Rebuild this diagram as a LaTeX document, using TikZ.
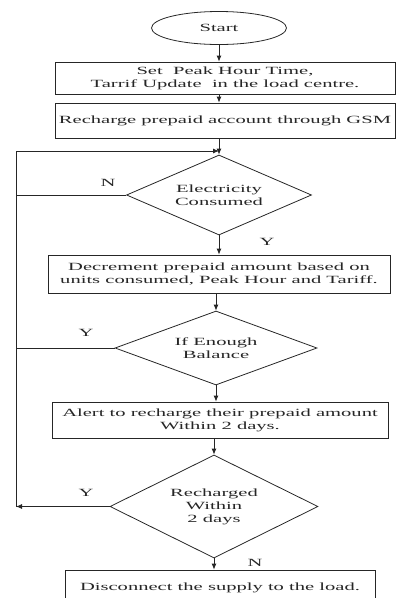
\documentclass[tikz,border=0pt]{standalone}
\usepackage{fontspec}
\setmainfont{Liberation Serif}[FakeStretch=1.87]
\usetikzlibrary{shapes.geometric,arrows.meta}
\tikzset{
  every node/.style={font=\fontsize{11}{13}\selectfont, text=black!85},
  flow/.style={draw=black!85, line width=0.8pt},
  arr/.style={flow, -{Latex[length=6pt,width=5pt]}},
  procbox/.style={flow, rectangle, align=center, inner sep=0pt},
  decision/.style={flow, diamond, inner sep=0pt},
  dtext/.style={align=center, inner sep=0pt},
  term/.style={flow, ellipse, inner sep=0pt, minimum width=135pt, minimum height=33pt},
  lbl/.style={inner sep=0pt}
}
\begin{document}
\begin{tikzpicture}[x=1pt,y=-1pt]
\useasboundingbox (0,0) rectangle (396,598);
\node[term] (start) at (219,28) {Start};
\node[procbox, minimum width=340pt, minimum height=32pt] (b1) at (225,78) {Set\ \ Peak Hour Time,\\Tarrif Update\ \ in the load centre.};
\node[procbox, minimum width=340pt, minimum height=35pt] (b2) at (225,120.5) {Recharge prepaid account through GSM};
\node[decision, minimum width=185pt, minimum height=80pt] (d1) at (219,195) {};
\node[dtext] (t1) at (d1.center) {Electricity\\Consumed};
\node[procbox, minimum width=342pt, minimum height=38pt] (b3) at (219,274) {Decrement prepaid amount based on\\units consumed, Peak Hour and Tariff.};
\node[decision, minimum width=202pt, minimum height=74pt] (d2) at (216,348) {};
\node[dtext] (t2) at (d2.center) {If Enough\\Balance};
\node[procbox, minimum width=336pt, minimum height=36pt] (b4) at (220,420) {Alert to recharge their prepaid amount\\Within 2 days.};
\node[decision, minimum width=208pt, minimum height=103pt] (d3) at (214,506.5) {};
\node[dtext] (t3) at (d3.center) {Recharged\\Within\\2 days};
\node[procbox, minimum width=310pt, minimum height=36pt] (b5) at (220,588) {Disconnect the supply to the load.};

\coordinate (join) at (219,151);
\coordinate (loopTop) at (16,151);
\coordinate (loopBot) at (16,506.5);

\draw[arr] (start.south) -- (start.south |- b1.north);
\draw[arr] (b1.south -| start) -- (b2.north -| start);
\draw[arr] (b2.south -| join) -- (d1.north);
\draw[arr] (d1.south) -- (d1.south |- b3.north);
\draw[arr] (b3.south -| d2) -- (d2.north);
\draw[arr] (d2.south) -- (d2.south |- b4.north);
\draw[arr] (b4.south -| d3) -- (d3.north);
\draw[arr] (d3.south) -- (d3.south |- b5.north);

\draw[arr] (loopBot) -- (loopTop) -- (join);
\draw[flow] (d1.west) -- (d1.west -| loopTop);
\draw[flow] (d2.west) -- (d2.west -| loopTop);
\draw[arr] (d3.west) -- (loopBot);

\node[lbl] (lN1) at (108,183) {N};
\node[lbl] (lY1) at (267,242) {Y};
\node[lbl] (lY2) at (86,333) {Y};
\node[lbl] (lY3) at (86,493) {Y};
\node[lbl] (lN3) at (255,563) {N};
\end{tikzpicture}
\end{document}
